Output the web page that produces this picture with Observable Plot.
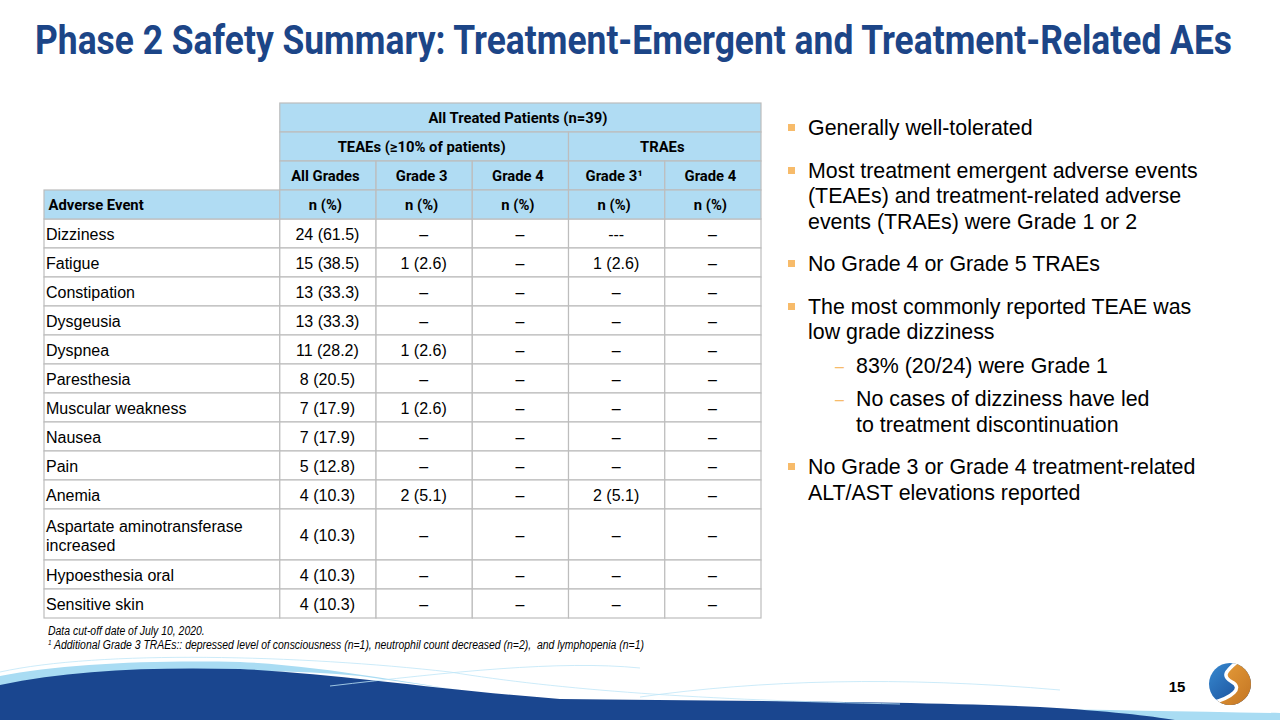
<!DOCTYPE html>
<html>
<head>
<meta charset="utf-8">
<script src="https://cdn.jsdelivr.net/npm/d3@7"></script>
<script src="https://cdn.jsdelivr.net/npm/@observablehq/plot@0.6"></script>
<style>
  html, body { margin:0; padding:0; width:1280px; height:720px; overflow:hidden; background:#fff; }
  body { position:relative; font-family:"Liberation Sans", Arial, sans-serif; color:#000; }
  #deco { position:absolute; left:0; top:0; z-index:0; }
  #table { position:absolute; left:0; top:0; z-index:1; }
  #title { position:absolute; left:35px; top:20px; font-family:Roboto,"Liberation Sans",sans-serif;
           font-weight:bold; font-size:41px; line-height:41px; color:#1c4587; white-space:nowrap; transform-origin:0 0; z-index:2; }
  #bullets { position:absolute; left:788px; top:116px; width:470px; font-size:20px; line-height:25.5px; z-index:2; }
  #bullets .p { position:relative; padding-left:20px; margin-top:17px; }
  #bullets .p:first-child { margin-top:0; }
  #bullets .p::before { content:""; position:absolute; left:0; top:8px; width:7px; height:7px; background:#f7bb6a; }
  #bullets .s { position:relative; padding-left:68px; margin-top:8px; }
  #bullets .s::before { content:"–"; position:absolute; left:47px; top:0; color:#f7bb6a; font-size:16px; }
  #foot { position:absolute; left:48px; top:625px; font-family:"Liberation Sans",Arial,sans-serif;
          font-style:italic; font-size:12.5px; line-height:13.5px; white-space:nowrap; transform-origin:0 0; z-index:2; }
  #foot sup { font-size:7.5px; vertical-align:4px; line-height:0; }
  #page { position:absolute; left:1160px; top:678px; width:34px; text-align:center; font-weight:bold; font-size:15px; line-height:18px; z-index:2; }
</style>
</head>
<body>
<svg id="deco" width="1280" height="720">
  <defs>
    <linearGradient id="gBlue" x1="0" y1="0" x2="1" y2="1">
      <stop offset="0" stop-color="#3a8fd6"/><stop offset="1" stop-color="#123f8a"/>
    </linearGradient>
    <linearGradient id="gOrange" x1="0" y1="0" x2="1" y2="1">
      <stop offset="0" stop-color="#f0a840"/><stop offset="1" stop-color="#b8681c"/>
    </linearGradient>
    <clipPath id="logoClip"><circle cx="1230" cy="684" r="21"/></clipPath>
  </defs>
  <path d="M0,676 C60,664 150,660 240,662 C330,666 420,686 530,700 L360,676 C280,668 150,668 0,688 Z" fill="#a9dcf3"/>
  <path d="M900,707 C1020,708 1150,711 1280,713 L1280,720 L1120,720 Z" fill="#a9dcf3"/>
  <path d="M0,685 C70,670 150,667 240,669 C330,673 450,691 560,699 C700,701 900,701 1040,707 C1110,711 1150,716 1175,720 L0,720 Z" fill="#1a468f"/>
  <path d="M0,672 C100,650 300,655 450,672 C560,690 700,700 900,704" fill="none" stroke="#bfe6f7" stroke-width="0.8"/>
  <path d="M330,686 C450,672 560,660 640,668" fill="none" stroke="#bfe6f7" stroke-width="0.8"/>
  <path d="M640,697 C760,680 900,676 1060,690" fill="none" stroke="#bfe6f7" stroke-width="0.8"/>
  <g clip-path="url(#logoClip)">
    <rect x="1205" y="660" width="50" height="50" fill="url(#gBlue)"/>
    <path d="M1238,661 C1226,671 1221,676 1232,682 C1243,688 1233,697 1212,703 L1262,716 L1262,652 Z" fill="url(#gOrange)"/>
    <path d="M1238,661 C1226,671 1221,676 1232,682 C1243,688 1233,697 1212,703" fill="none" stroke="#fff" stroke-width="3.5"/>
  </g>
</svg>

<div id="title">Phase 2 Safety Summary: Treatment-Emergent and Treatment-Related AEs</div>
<div id="table"></div>

<div id="bullets">
  <div class="p">Generally well-tolerated</div>
  <div class="p" id="refLine">Most treatment emergent adverse events<br>(TEAEs) and treatment-related adverse<br>events (TRAEs) were Grade 1 or 2</div>
  <div class="p">No Grade 4 or Grade 5 TRAEs</div>
  <div class="p">The most commonly reported TEAE was<br>low grade dizziness</div>
  <div class="s">83% (20/24) were Grade 1</div>
  <div class="s">No cases of dizziness have led<br>to treatment discontinuation</div>
  <div class="p">No Grade 3 or Grade 4 treatment-related<br>ALT/AST elevations reported</div>
</div>

<div id="foot">Data cut-off date of July 10, 2020.<br><sup>1</sup> Additional Grade 3 TRAEs:: depressed level of consciousness (n=1), neutrophil count decreased (n=2),&nbsp; and lymphopenia (n=1)</div>
<div id="page">15</div>

<script>
// ---------- data ----------
const topHeader = "All Treated Patients (n=39)";
const groupLabels = ["TEAEs (≥10% of patients)", "TRAEs"];
const groupSpans = [3, 2];
const columnHeaders = ["All Grades", "Grade 3", "Grade 4", "Grade 3¹", "Grade 4"];
const firstHeader = "Adverse Event";
const unitLabel = "n (%)";

const events = ["Dizziness", "Fatigue", "Constipation", "Dysgeusia", "Dyspnea", "Paresthesia",
  "Muscular weakness", "Nausea", "Pain", "Anemia", "Aspartate aminotransferase\nincreased",
  "Hypoesthesia oral", "Sensitive skin"];
const teaeAllGrades = ["24 (61.5)", "15 (38.5)", "13 (33.3)", "13 (33.3)", "11 (28.2)", "8 (20.5)",
  "7 (17.9)", "7 (17.9)", "5 (12.8)", "4 (10.3)", "4 (10.3)", "4 (10.3)", "4 (10.3)"];
const teaeGrade3 = ["–", "1 (2.6)", "–", "–", "1 (2.6)", "–", "1 (2.6)", "–", "–", "2 (5.1)", "–", "–", "–"];
const teaeGrade4 = ["–", "–", "–", "–", "–", "–", "–", "–", "–", "–", "–", "–", "–"];
const traeGrade3 = ["---", "1 (2.6)", "–", "–", "–", "–", "–", "–", "–", "2 (5.1)", "–", "–", "–"];
const traeGrade4 = ["–", "–", "–", "–", "–", "–", "–", "–", "–", "–", "–", "–", "–"];

// ---------- layout (relative units) ----------
const valueColumns = [teaeAllGrades, teaeGrade3, teaeGrade4, traeGrade3, traeGrade4];
const colUnits = [2.45, 1, 1, 1, 1, 1];
const colStart = Array.from(d3.cumsum([0, ...colUnits]));
const headerRows = 4;
const bodyUnits = events.map(e => e.includes("\n") ? 1.76 : 1);
const rowUnits = [1, 1, 1, 1, ...bodyUnits];
const rowStart = Array.from(d3.cumsum([0, ...rowUnits]));
const totalX = colStart[colStart.length - 1];
const totalY = rowStart[rowStart.length - 1];

const headerCells = [];
headerCells.push({c0: 1, c1: 6, r: 0, label: topHeader, anchor: "middle"});
let gc = 1;
groupLabels.forEach((g, i) => { headerCells.push({c0: gc, c1: gc + groupSpans[i], r: 1, label: g, anchor: "middle"}); gc += groupSpans[i]; });
columnHeaders.forEach((h, i) => headerCells.push({c0: i + 1, c1: i + 2, r: 2, label: h, anchor: "middle"}));
headerCells.push({c0: 0, c1: 1, r: 3, label: firstHeader, anchor: "start"});
columnHeaders.forEach((h, i) => headerCells.push({c0: i + 1, c1: i + 2, r: 3, label: unitLabel, anchor: "middle"}));

const bodyCells = [];
events.forEach((e, i) => {
  const r = headerRows + i;
  bodyCells.push({c0: 0, c1: 1, r, label: e, anchor: "start"});
  valueColumns.forEach((col, j) => bodyCells.push({c0: j + 1, c1: j + 2, r, label: col[i], anchor: "middle"}));
});

const headFont = "Roboto, Liberation Sans, sans-serif";
const bodyFont = "Liberation Sans, Arial, sans-serif";
const midX = d => (colStart[d.c0] + colStart[d.c1]) / 2;
const leftX = d => colStart[d.c0];
const cy = d => (rowStart[d.r] + rowStart[d.r + 1]) / 2;
const isStart = d => d.anchor === "start";
const isMid = d => d.anchor !== "start";

const chart = Plot.plot({
  width: 1280, height: 720,
  marginLeft: 44, marginRight: 519, marginTop: 103, marginBottom: 102,
  style: {background: "transparent"},
  x: {domain: [0, totalX], axis: null},
  y: {domain: [0, totalY], reverse: true, axis: null},
  marks: [
    Plot.rect(bodyCells, {x1: d => colStart[d.c0], x2: d => colStart[d.c1], y1: d => rowStart[d.r], y2: d => rowStart[d.r + 1],
      fill: "#ffffff", stroke: "#bdbdbd", strokeWidth: 1.2}),
    Plot.rect(headerCells, {x1: d => colStart[d.c0], x2: d => colStart[d.c1], y1: d => rowStart[d.r], y2: d => rowStart[d.r + 1],
      fill: "#b0dcf3", stroke: "#bdbdbd", strokeWidth: 1.2}),
    Plot.text(headerCells, {filter: isMid, x: midX, y: cy, text: "label", textAnchor: "middle", dx: -3,
      fontFamily: headFont, fontWeight: "bold", fontSize: 14.8, fill: "#000"}),
    Plot.text(headerCells, {filter: isStart, x: leftX, y: cy, text: "label", textAnchor: "start", dx: 4,
      fontFamily: headFont, fontWeight: "bold", fontSize: 14.8, fill: "#000"}),
    Plot.text(bodyCells, {filter: isMid, x: midX, y: cy, text: "label", textAnchor: "middle", dx: -1,
      fontFamily: bodyFont, fontSize: 16, lineHeight: 1.2, fill: "#000"}),
    Plot.text(bodyCells, {filter: isStart, x: leftX, y: cy, text: "label", textAnchor: "start", dx: 1.5,
      fontFamily: bodyFont, fontSize: 16, lineHeight: 1.2, fill: "#000"})
  ]
});
document.getElementById("table").appendChild(chart);

// fit text widths to the slide
function fitX(el, target) {
  const w = el.getBoundingClientRect().width;
  if (w > 0) el.style.transform = `scaleX(${target / w})`;
}
fitX(document.getElementById("title"), 1197);
fitX(document.getElementById("foot"), 596);
(function () {
  const b = document.getElementById("bullets");
  const r = document.createRange();
  const el = document.getElementById("refLine");
  r.setStart(el.firstChild, 0); r.setEnd(el.firstChild, el.firstChild.length);
  const w = r.getBoundingClientRect().width;
  if (w > 0) b.style.fontSize = (20 * 390 / w).toFixed(2) + "px";
})();
</script>
</body>
</html>
